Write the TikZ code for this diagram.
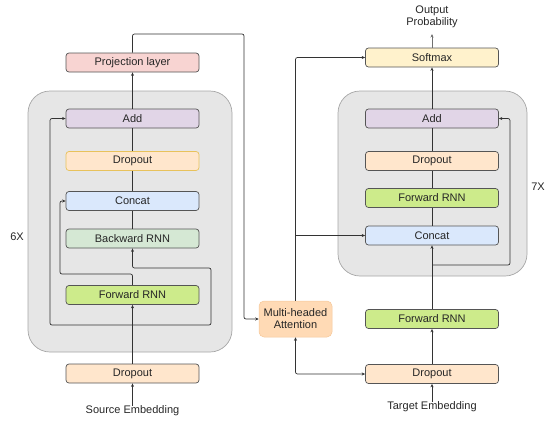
\documentclass[tikz,border=0pt]{standalone}
\usepackage{fontspec}
\setmainfont{Liberation Sans}
\usetikzlibrary{arrows.meta}
\definecolor{edge}{HTML}{333333}
\definecolor{bord}{HTML}{555555}
\definecolor{grayfill}{HTML}{E6E6E6}
\definecolor{grayline}{HTML}{A6A6A6}
\definecolor{pinkf}{HTML}{F8D4D2}
\definecolor{purplef}{HTML}{E1D5E7}
\definecolor{orangef}{HTML}{FFE6CC}
\definecolor{yellowb}{HTML}{E8C25C}
\definecolor{bluef}{HTML}{DAE8FC}
\definecolor{palegreen}{HTML}{D5E8D4}
\definecolor{limef}{HTML}{CDEB8B}
\definecolor{softf}{HTML}{FFF2CC}
\definecolor{attnf}{HTML}{FFDAB5}
\definecolor{attnb}{HTML}{F5C899}
\begin{document}
\begin{tikzpicture}[x=1pt,y=-1pt,
  font=\fontsize{11}{12}\selectfont,
  layer/.style={draw=bord, line width=0.7pt, rounded corners=3pt, minimum width=133pt, minimum height=19pt, inner sep=0pt, text=black!85},
  block/.style={draw=grayline, fill=grayfill, line width=0.7pt, rounded corners=22pt},
  conn/.style={draw=edge, line width=0.7pt, rounded corners=2pt},
  arr/.style={conn, -{Stealth[length=3.5pt,width=3pt]}},
  plain/.style={text=black!85, inner sep=0pt}
]
\useasboundingbox (0,0) rectangle (547,424);
% grey blocks
\path[block] (28,91) rectangle (232,352);
\path[block] (338,91) rectangle (527,276);
\node[plain] (sixx) at (17,237) {6X};
\node[plain] (sevenx) at (538,187) {7X};

% left column
\node[layer, fill=pinkf] (proj) at (132.5,62.5) {Projection layer};
\node[layer, fill=purplef] (addL) at (132.5,118.5) {Add};
\node[layer, fill=orangef, draw=yellowb] (dropL) at (132.5,161) {Dropout};
\node[layer, fill=bluef] (concatL) at (132.5,201) {Concat};
\node[layer, fill=palegreen] (bwd) at (132.5,238.5) {Backward RNN};
\node[layer, fill=limef] (fwdL) at (132.5,295) {Forward RNN};
\node[layer, fill=orangef] (dropLb) at (132.5,373.5) {Dropout};
\node[plain] (src) at (132.5,411) {Source Embedding};

% right column
\node[plain, align=center] (outp) at (432,17) {Output\\Probability};
\node[layer, fill=softf] (soft) at (432,57.5) {Softmax};
\node[layer, fill=purplef] (addR) at (432,118.5) {Add};
\node[layer, fill=orangef] (dropR) at (432,161) {Dropout};
\node[layer, fill=limef] (fwdR) at (432,198) {Forward RNN};
\node[layer, fill=bluef] (concatR) at (432,235.5) {Concat};
\node[layer, fill=limef] (fwdR2) at (432,319) {Forward RNN};
\node[layer, fill=orangef] (dropRb) at (432,374) {Dropout};
\node[plain] (tgt) at (432,407) {Target Embedding};

% attention
\node[draw=attnb, fill=attnf, line width=0.5pt, rounded corners=5pt, minimum width=73pt, minimum height=36pt, inner sep=0pt, align=center, text=black!85] (attn) at (295.5,319) {Multi-headed\\Attention};

% coordinates
\coordinate (jL) at (132.5,325);
\coordinate (jR) at (432,265);
\coordinate (outtip) at (432,34);
\coordinate (ajc) at (296,235.5);

% left connectors
\draw[arr] (src) -- (dropLb.south);
\draw[arr] (dropLb.north) -- (fwdL.south);
\draw[arr] (jL) -- (211,325) -- (211,268) -- (132.5,268) -- (bwd.south);
\draw[arr] (jL) -- (50,325) -- (50,118.5) -- (addL.west);
\draw[arr] (fwdL.north) -- (132.5,274) -- (60,274) -- (60,201) -- (concatL.west);
\draw[conn] (bwd.north) -- (concatL.south);
\draw[conn] (concatL.north) -- (dropL.south);
\draw[conn] (dropL.north) -- (addL.south);
\draw[arr] (addL.north) -- (proj.south);
\draw[arr] (proj.north) -- (132.5,34) -- (244,34) -- (244,319) -- (attn.west);

% right connectors
\draw[arr] (attn.north) |- (soft.west);
\draw[arr] (ajc) -- (concatR.west);
\draw[conn, {Stealth[length=3.5pt,width=3pt]}-{Stealth[length=3.5pt,width=3pt]}] (attn.south) |- (dropRb.west);
\draw[arr] (tgt) -- (dropRb.south);
\draw[arr] (dropRb.north) -- (fwdR2.south);
\draw[arr] (fwdR2.north) -- (concatR.south);
\draw[arr] (jR) -- (510,265) -- (510,118.5) -- (addR.east);
\draw[conn] (concatR.north) -- (fwdR.south);
\draw[conn] (fwdR.north) -- (dropR.south);
\draw[conn] (dropR.north) -- (addR.south);
\draw[arr] (addR.north) -- (soft.south);
\draw[arr, draw=edge!70] (soft.north) -- (outtip);
\end{tikzpicture}
\end{document}
